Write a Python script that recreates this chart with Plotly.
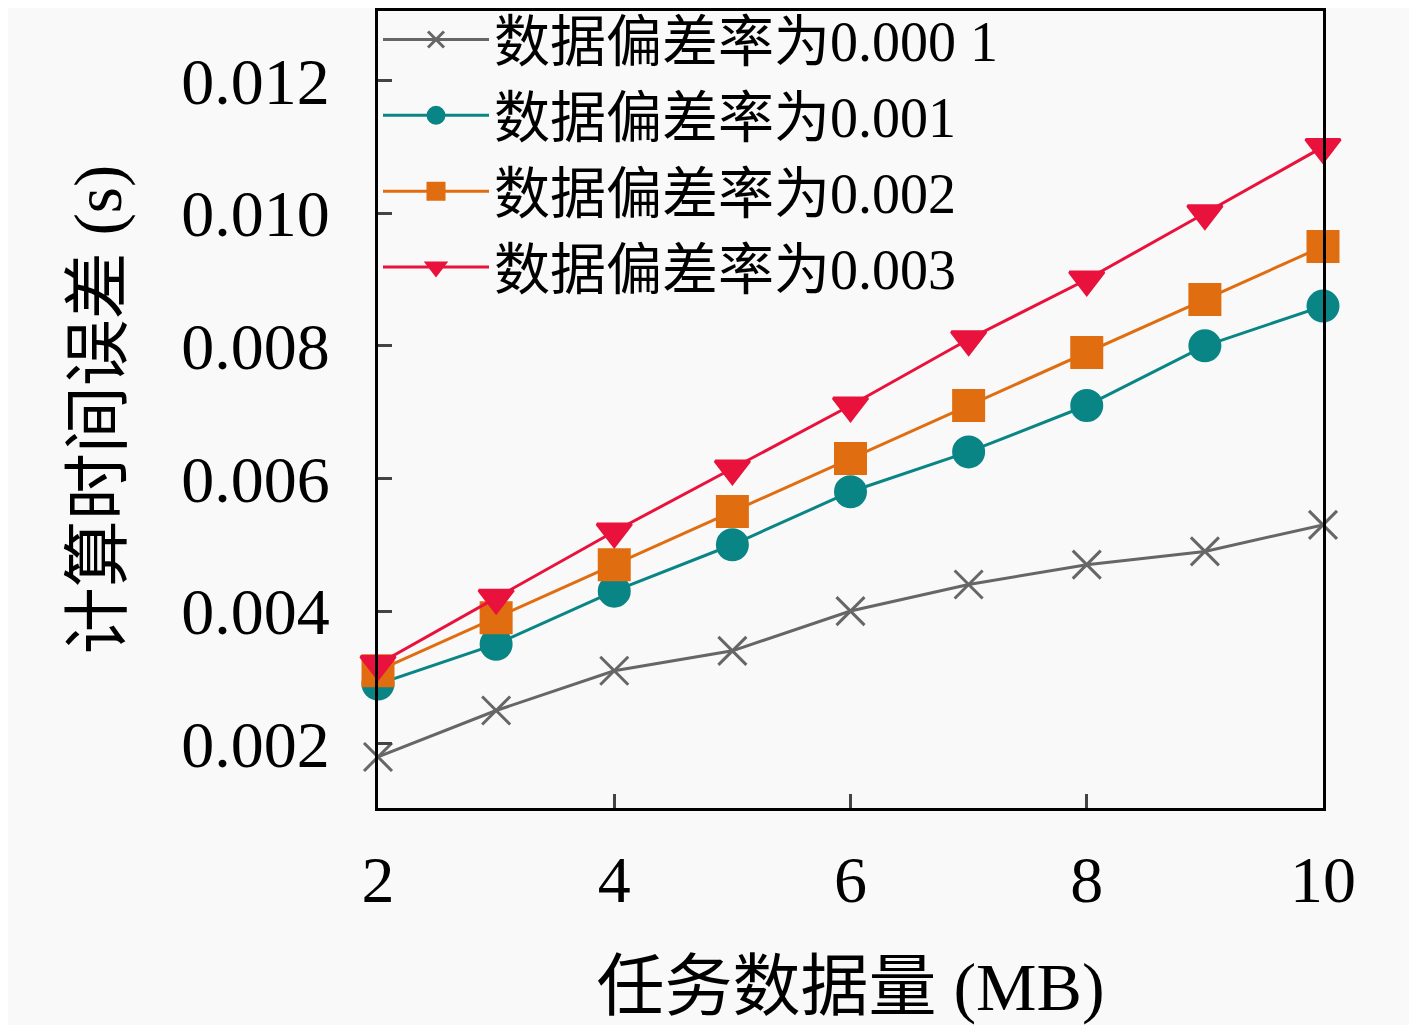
import plotly.graph_objects as go

# data
x_mb = [2, 3, 4, 5, 6, 7, 8, 9, 10]
rate_00001 = [0.0018, 0.0025, 0.0031, 0.0034, 0.0040, 0.0044, 0.0047, 0.0049, 0.0053]
rate_0001 = [0.0029, 0.0035, 0.0043, 0.0050, 0.0058, 0.0064, 0.0071, 0.0080, 0.0086]
rate_0002 = [0.0031, 0.0039, 0.0047, 0.0055, 0.0063, 0.0071, 0.0079, 0.0087, 0.0095]
rate_0003 = [0.0032, 0.0042, 0.0052, 0.00615, 0.0071, 0.0081, 0.0090, 0.0100, 0.0110]

names = ['数据偏差率为0.000 1', '数据偏差率为0.001', '数据偏差率为0.002', '数据偏差率为0.003']
x_ticks = [2, 4, 6, 8, 10]
y_ticks = [0.002, 0.004, 0.006, 0.008, 0.010, 0.012]

FONT = 'Liberation Serif, Noto Sans CJK SC, serif'
BG = '#f9f9f9'

series = [
    (rate_00001, '#666666', 'x-thin', 28),
    (rate_0001, '#0a8585', 'circle', 30),
    (rate_0002, '#e06d10', 'square', 30),
    (rate_0003, '#e8123c', 'triangle-down', 30),
]

fig = go.Figure()
for (vals, color, symbol, size), name in zip(series, names):
    fig.add_trace(go.Scatter(
        x=x_mb, y=vals, name=name, mode='lines+markers',
        line=dict(color=color, width=3),
        marker=dict(symbol=symbol, size=size, color=color,
                    line=dict(color=color, width=3)),
        cliponaxis=False,
    ))

# page body adds ~8px offset, margins compensate; no auto-expanding
fig.update_layout(
    width=1417, height=1025,
    margin=dict(l=370, r=102, t=3, b=225, autoexpand=False),
    paper_bgcolor=BG, plot_bgcolor=BG,
    font=dict(family=FONT, size=62, color='black'),
    showlegend=True,
    legend=dict(x=0.0, y=1.018, xanchor='left', yanchor='top',
                bgcolor='rgba(0,0,0,0)', font=dict(size=56, family=FONT),
                itemwidth=106, tracegroupgap=0),
)

fig.update_xaxes(
    range=[2, 10], tickvals=x_ticks, ticks='inside', ticklen=14, tickwidth=3,
    showline=True, linewidth=3, linecolor='black', mirror=True,
    showgrid=False, zeroline=False, ticklabelstandoff=12,
    tickfont=dict(size=66, family=FONT),
    title=dict(text='任务数据量 (MB)', font=dict(size=68, family=FONT), standoff=48),
)
fig.update_yaxes(
    range=[0.00103, 0.01305], tickvals=y_ticks, tickformat='.3f',
    ticks='inside', ticklen=14, tickwidth=3,
    showline=True, linewidth=3, linecolor='black', mirror=True,
    showgrid=False, zeroline=False, ticklabelstandoff=32,
    tickfont=dict(size=66, family=FONT),
    title=dict(text='计算时间误差 (s)', font=dict(size=67, family=FONT), standoff=38),
)

fig.write_html('out.html')
print('finished')
